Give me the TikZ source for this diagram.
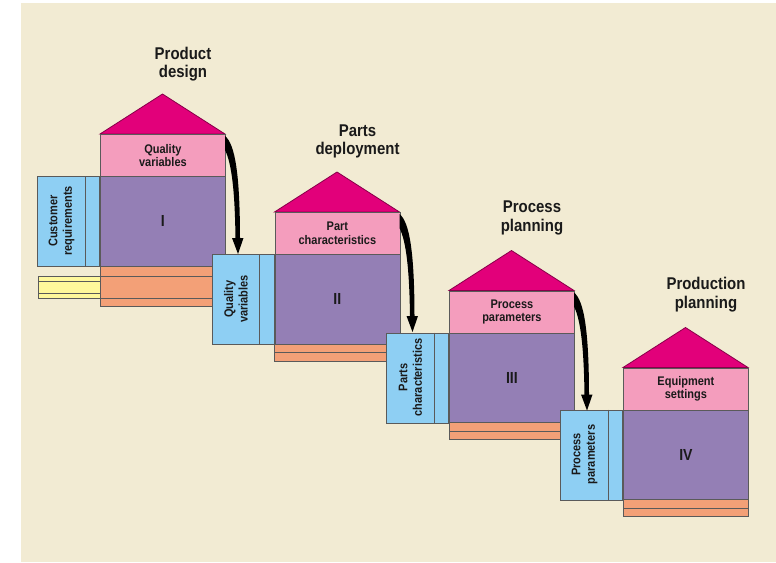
\documentclass[tikz,border=0pt]{standalone}
\usepackage{fontspec}
\setmainfont{Liberation Sans}[FakeStretch=0.88]
\usetikzlibrary{calc}
\definecolor{bgc}{HTML}{F2EBD3}
\definecolor{roofc}{HTML}{E2007A}
\definecolor{pinkc}{HTML}{F49DBD}
\definecolor{purplec}{HTML}{947FB5}
\definecolor{bluec}{HTML}{8ECFF3}
\definecolor{orangec}{HTML}{F3A077}
\definecolor{yellowc}{HTML}{FFF89B}
\definecolor{edgec}{HTML}{5A5A5A}
\definecolor{txtc}{HTML}{1A1A1A}
\tikzset{
  edge/.style={draw=edgec, line width=0.8pt},
  roof/.style={edge, fill=roofc, draw=roofc!60!black},
  pinkbox/.style={edge, fill=pinkc, minimum width=125pt, minimum height=42pt, inner sep=0pt,
    font=\bfseries\fontsize{12.5}{13.5}\selectfont, align=center, text=txtc},
  purplebox/.style={edge, fill=purplec, minimum width=125pt, minimum height=90pt, inner sep=0pt,
    font=\bfseries\fontsize{16}{16}\selectfont, text=txtc},
  bluebox/.style={edge, fill=bluec, minimum width=62pt, minimum height=90pt, inner sep=0pt},
  orangebox/.style={edge, fill=orangec},
  yellowbox/.style={edge, fill=yellowc},
  vlabel/.style={rotate=90, font=\bfseries\fontsize{12.5}{14.5}\selectfont, align=center, text=txtc, inner sep=0pt},
  title/.style={font=\bfseries\fontsize{17}{18.5}\selectfont, align=center, text=txtc, inner sep=0pt},
  flow/.style={fill=black},
}
\newcommand\qhouse[5]{% id, L, R, pink text, numeral
  \filldraw[roof] (#2,#3) -- (#2+62.5,#3-40) -- (#2+125,#3) -- cycle;
  \node[pinkbox, anchor=north west] (pk#1) at (#2,#3) {#4};
  \node[purplebox, anchor=north west] (pu#1) at (#2,#3+42) {#5};
}
\newcommand\qtworows[3]{% id, L, R
  \draw[orangebox] (#2,#3+132) rectangle (#2+125,#3+140.5);
  \draw[orangebox] (#2,#3+140.5) rectangle (#2+125,#3+149);
}
\newcommand\qblue[4]{% id, L, R, label
  \node[bluebox, anchor=north east] (bl#1) at (#2,#3+42) {};
  \draw[edge] (#2-15,#3+42) -- (#2-15,#3+132);
  \node[vlabel] (bt#1) at (#2-38.5,#3+87) {#4};
}
\newcommand\qarrow[3]{% id, L, R  (arrow from pink box of this house)
  \fill[flow] (#2+125,#3+2) .. controls (#2+135,#3+10) and (#2+140,#3+40) .. (#2+140,#3+106)
     -- (#2+135.5,#3+106) .. controls (#2+135,#3+60) and (#2+132,#3+30) .. (#2+125,#3+16) -- cycle;
  \fill[flow] (#2+132,#3+104) -- (#2+143.5,#3+104) -- (#2+138,#3+120) -- cycle;
}
\begin{document}
\begin{tikzpicture}[x=1pt, y=-1pt]
\useasboundingbox (0,0) rectangle (776,562);
\fill[bgc] (21,3) rectangle (776,562);

% House I
\qblue{1}{100}{134}{Customer\\requirements}
\draw[yellowbox] (38,276) rectangle (100,298);
\draw[edge] (38,281) -- (100,281);
\draw[edge] (38,293) -- (100,293);
\qhouse{1}{100}{134}{Quality\\variables}{I}
\draw[orangebox] (100,266) rectangle (225,276);
\draw[orangebox] (100,276) rectangle (225,298);
\draw[orangebox] (100,298) rectangle (225,306);

% House II
\qblue{2}{274.5}{212}{Quality\\variables}
\qhouse{2}{274.5}{212}{Part\\characteristics}{II}
\qtworows{2}{274.5}{212}

% House III
\qblue{3}{449}{290.5}{Parts\\characteristics}
\qhouse{3}{449}{290.5}{Process\\parameters}{III}
\qtworows{3}{449}{290.5}

% House IV
\qblue{4}{623}{367.5}{Process\\parameters}
\qhouse{4}{623}{367.5}{Equipment\\settings}{IV}
\qtworows{4}{623}{367.5}

% Arrows
\qarrow{1}{100}{134}
\qarrow{2}{274.5}{212}
\qarrow{3}{449}{290.5}

% Titles
\node[title] (t1) at (183,64) {Product\\design};
\node[title] (t2) at (357.5,141.5) {Parts\\deployment};
\node[title] (t3) at (532,218) {Process\\planning};
\node[title] (t4) at (706,294.5) {Production\\planning};
\end{tikzpicture}
\end{document}
